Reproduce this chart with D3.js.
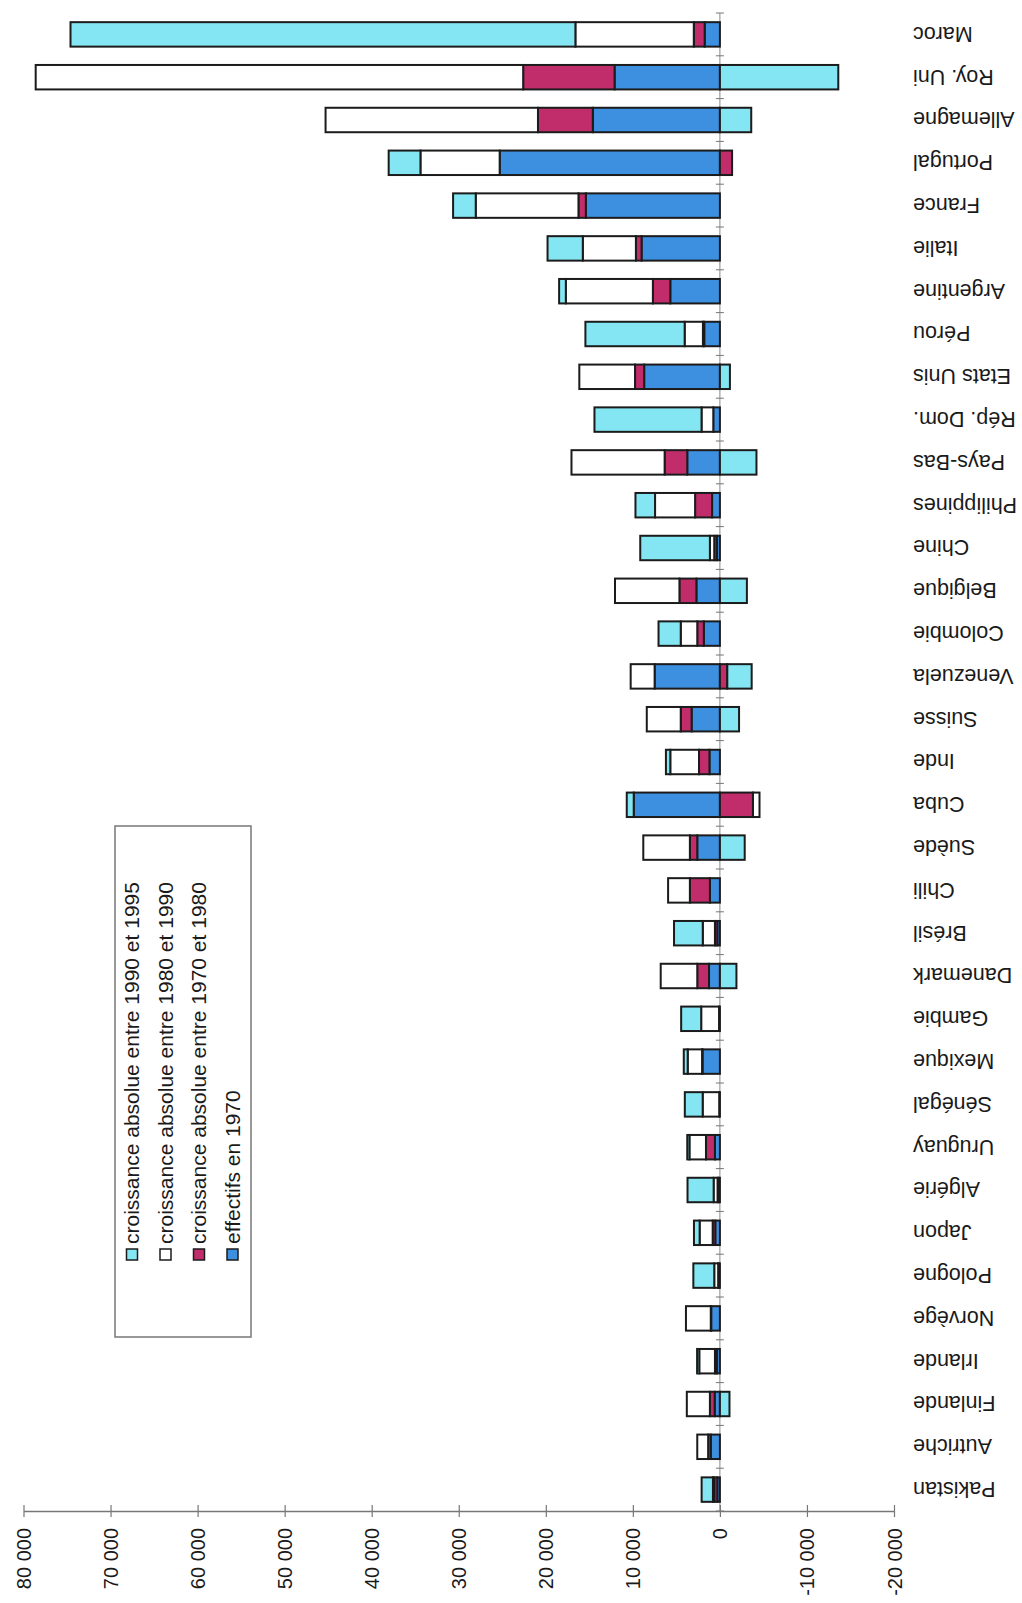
<!DOCTYPE html>
<html><head><meta charset="utf-8">
<script src="https://cdn.jsdelivr.net/npm/d3@7"></script>
<style>body{margin:0;background:#fff}svg{display:block}text{font-family:"Liberation Sans",Arial,sans-serif;fill:#1a1a1a}</style>
</head><body><svg id="c" width="1022" height="1603"></svg>
<script>
const categories = ["Maroc","Roy. Uni","Allemagne","Portugal","France","Italie","Argentine","Pérou","Etats Unis","Rép. Dom.","Pays-Bas","Philippines","Chine","Belgique","Colombie","Venezuela","Suisse","Inde","Cuba","Suède","Chili","Brésil","Danemark","Gambie","Mexique","Sénégal","Uruguay","Algérie","Japon","Pologne","Norvège","Irlande","Finlande","Autriche","Pakistan"];
const effectifs1970 = [1750,12100,14600,25300,15400,9000,5700,1800,8700,760,3750,900,350,2700,1850,7500,3250,1200,9900,2600,1150,300,1250,100,2000,80,570,150,530,150,1000,350,600,1050,300];
const croissance7080 = [1250,10500,6300,-1400,850,650,2000,150,1050,0,2600,1950,300,1950,750,-850,1250,1200,-3800,850,2300,270,1350,0,50,0,1030,120,300,50,50,220,550,300,350];
const croissance8090 = [13600,56000,24400,9100,11800,6100,10000,2100,6400,1350,10700,4600,500,7400,1900,2750,3900,3300,-750,5350,2500,1400,4200,2050,1650,1900,1900,450,1500,450,2850,1800,2650,1250,150];
const croissance9095 = [58000,-13600,-3600,3650,2600,4050,770,11400,-1150,12300,-4200,2250,8000,-3100,2550,-2800,-2200,500,800,-2850,0,3300,-1900,2300,450,2050,250,3000,650,2400,0,250,-1100,0,1300];
const legendLabels = ["croissance absolue entre 1990 et 1995","croissance absolue entre 1980 et 1990","croissance absolue entre 1970 et 1980","effectifs en 1970"];
const valueTicks = [80000,70000,60000,50000,40000,30000,20000,10000,0,-10000,-20000];

const keys = ["e70","c7080","c8090","c9095"];
const colors = {e70:"#3d8fe0", c7080:"#c12c6a", c8090:"#ffffff", c9095:"#84e6f2"};
const legendKeys = ["c9095","c8090","c7080","e70"];

const rows = categories.map((c,i)=>({cat:c, e70:effectifs1970[i], c7080:croissance7080[i], c8090:croissance8090[i], c9095:croissance9095[i]}));
const stacked = d3.stack().keys(keys).offset(d3.stackOffsetDiverging)(rows);

const x = d3.scaleLinear().domain([-20000,80000]).range([894,23.5]);
const y = d3.scaleBand().domain(categories).range([13,1511]).paddingInner(0.4286).paddingOuter(0.2143);
const svg = d3.select("#c");
const x0 = x(0);

// category axis line at zero with boundary ticks
svg.append("line").attr("x1",x0).attr("x2",x0).attr("y1",13).attr("y2",1511).attr("stroke","#888").attr("stroke-width",1);
const bounds = d3.range(categories.length+1).map(i=>13+i*y.step());
svg.append("g").selectAll("line").data(bounds).join("line")
  .attr("x1",x0-4).attr("x2",x0+4).attr("y1",d=>d).attr("y2",d=>d)
  .attr("stroke","#777").attr("stroke-width",1);

// bars
stacked.forEach(s=>{
  svg.append("g").selectAll("rect").data(s.filter(d=>d[1]!==d[0])).join("rect")
    .attr("x",d=>x(Math.max(d[0],d[1])))
    .attr("width",d=>Math.abs(x(d[0])-x(d[1])))
    .attr("y",d=>y(d.data.cat)).attr("height",y.bandwidth())
    .attr("fill",colors[s.key]).attr("stroke","#1b1b1b").attr("stroke-width",2);
});

// value axis
const fmt = d=>d3.format(",")(d).replace(/,/g," ").replace("\u2212","-");
const ax = svg.append("g").attr("transform","translate(0,1511)")
  .call(d3.axisBottom(x).tickValues(valueTicks).tickSize(0).tickFormat(fmt));
ax.select(".domain").attr("stroke","#777").attr("stroke-width",1.5);
ax.selectAll(".tick").append("line").attr("y1",-6).attr("y2",6).attr("stroke","#777").attr("stroke-width",1.2);
ax.selectAll(".tick text").attr("x",0).attr("y",0).attr("dy","0.35em")
  .attr("transform","translate(0,17) rotate(-90)").attr("text-anchor","end")
  .attr("font-size",20).attr("fill","#1a1a1a");

// category labels (upside down)
const cy = svg.append("g").attr("transform","translate(913,0)").call(d3.axisLeft(y).tickSize(0));
cy.select(".domain").remove();
cy.selectAll(".tick text").attr("x",0).attr("dy","0.35em")
  .attr("transform","rotate(180)").attr("text-anchor","end")
  .attr("font-size",21.5).attr("fill","#1a1a1a");

// legend
svg.append("rect").attr("x",115).attr("y",826).attr("width",136).attr("height",511)
  .attr("fill","none").attr("stroke","#777").attr("stroke-width",1.5);
const lg = svg.append("g").selectAll("g").data(legendLabels).join("g")
  .attr("transform",(d,i)=>`translate(${132+i*33.5},0)`);
lg.append("rect").attr("x",-5.5).attr("y",1249).attr("width",11).attr("height",11)
  .attr("fill",(d,i)=>colors[legendKeys[i]]).attr("stroke","#1b1b1b").attr("stroke-width",1.5);
lg.append("text").text(d=>d).attr("transform","translate(0,1244) rotate(-90)")
  .attr("dy","0.35em").attr("font-size",21).attr("text-anchor","start");
</script></body></html>
